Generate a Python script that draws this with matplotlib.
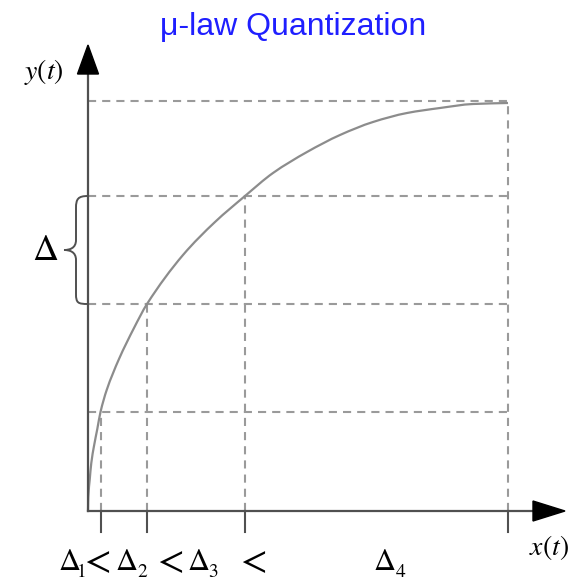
import matplotlib
matplotlib.use('Agg')
import matplotlib.pyplot as plt
from matplotlib.path import Path
from matplotlib.patches import PathPatch, Polygon

plt.rcParams['mathtext.fontset'] = 'stix'

# quantizer levels (height above the x axis) and where the curve crosses them
levels = [99, 207, 315, 410]
crossings = [12.5, 59, 157, 420]

# companding curve, sampled by hand
curve_x = [0, 0.3, 1.7, 3.3, 6, 9.3, 12.5, 18.7, 31, 46, 59, 95, 127,
           157, 185, 219, 252, 285, 319, 352, 385, 420]
curve_y = [0, 14, 31, 48, 65, 82, 99, 121, 152, 183, 207, 256, 289,
           315, 338, 359, 376, 389, 398, 403, 407, 408]

# step sizes written under the ticks
step_names = ['1', '2', '3', '4']
step_x = [-30, 27, 99, 285]
step_sub_x = [-12, 49, 120, 307]
sep_x = [7, 80, 163]

grid_color = '#9a9a9a'
axis_color = '#505050'
dash = (0, (3.9, 2.9))


def smooth_path(xs, ys):
    # monotone cubic through the samples, written as bezier segments
    n = len(xs)
    sec = [(ys[i + 1] - ys[i]) / (xs[i + 1] - xs[i]) for i in range(n - 1)]
    m = [sec[0]]
    for i in range(1, n - 1):
        a, b = sec[i - 1], sec[i]
        m.append(0 if a * b <= 0 else 2 * a * b / (a + b))
    m.append(sec[-1])
    verts = [(xs[0], ys[0])]
    codes = [Path.MOVETO]
    for i in range(n - 1):
        h = xs[i + 1] - xs[i]
        verts += [(xs[i] + h / 3, ys[i] + m[i] * h / 3),
                  (xs[i + 1] - h / 3, ys[i + 1] - m[i + 1] * h / 3),
                  (xs[i + 1], ys[i + 1])]
        codes += [Path.CURVE4] * 3
    return Path(verts, codes)


fig = plt.figure(figsize=(5.77, 5.81), dpi=100)
ax = fig.add_axes([0, 0, 1, 1])
ax.set_xlim(-88, 489)
ax.set_ylim(-70, 511)
ax.axis('off')

x_end = crossings[-1]

# dashed grid: levels run across, crossings drop to the axis
for lv in levels:
    ax.plot([0, x_end], [lv, lv], color=grid_color, lw=1.5,
            linestyle=dash, zorder=1)
for cx, lv in zip(crossings, levels):
    ax.plot([cx, cx], [0, lv], color=grid_color, lw=1.5,
            linestyle=dash, zorder=1)

ax.add_patch(PathPatch(smooth_path(curve_x, curve_y), facecolor='none',
                       edgecolor='#8c8c8c', lw=1.6, zorder=2))

# axes with arrow heads
ax.plot([0, 0], [0, 440], color=axis_color, lw=1.6, zorder=3)
ax.plot([0, 448], [0, 0], color=axis_color, lw=1.6, zorder=3)
ax.add_patch(Polygon([(-10.5, 437), (10.5, 437), (0, 466)], closed=True,
                     color='black', zorder=4))
ax.add_patch(Polygon([(445, 10), (445, -10), (477, 0)], closed=True,
                     color='black', zorder=4))

# ticks under the axis
for cx in crossings:
    ax.plot([cx, cx], [0, -21], color=axis_color, lw=1.5, zorder=3)

# brace marking one step on the output axis
lo, hi = levels[1], levels[2]
mid = (lo + hi) / 2
verts = [(0, hi), (-10, hi), (-12, hi - 3), (-12, hi - 12),
         (-12, mid + 10),
         (-12, mid + 2), (-18, mid), (-24, mid),
         (-18, mid), (-12, mid - 2), (-12, mid - 10),
         (-12, lo + 10),
         (-12, lo + 1), (-10, lo), (0, lo)]
codes = [Path.MOVETO, Path.CURVE4, Path.CURVE4, Path.CURVE4,
         Path.LINETO,
         Path.CURVE4, Path.CURVE4, Path.CURVE4,
         Path.CURVE4, Path.CURVE4, Path.CURVE4,
         Path.LINETO,
         Path.CURVE4, Path.CURVE4, Path.CURVE4]
ax.add_patch(PathPatch(Path(verts, codes), facecolor='none',
                       edgecolor=axis_color, lw=1.4, zorder=3))
ax.text(-43, mid, r'$\Delta$', fontsize=26, ha='center', va='center')

# axis names
ax.text(-44, 439, r'$y(t)$', fontsize=20, ha='center', va='center')
ax.text(461, -36, r'$x(t)$', fontsize=20, ha='center', va='center')

for name, lx, sx in zip(step_names, step_x, step_sub_x):
    ax.text(lx, -59, r'$\Delta$', fontsize=22, ha='left', va='baseline')
    ax.text(sx, -66, '$' + name + '$', fontsize=14, ha='left', va='baseline')
for sx in sep_x:
    ax.text(sx, -61, r'$<$', fontsize=28, ha='center', va='baseline')

fig.text(0.508, 0.94, '\u03bc-law Quantization', color='#1f1fff',
         fontsize=23, family='Liberation Sans', ha='center', va='baseline')

fig.savefig('out.png', dpi=100)
